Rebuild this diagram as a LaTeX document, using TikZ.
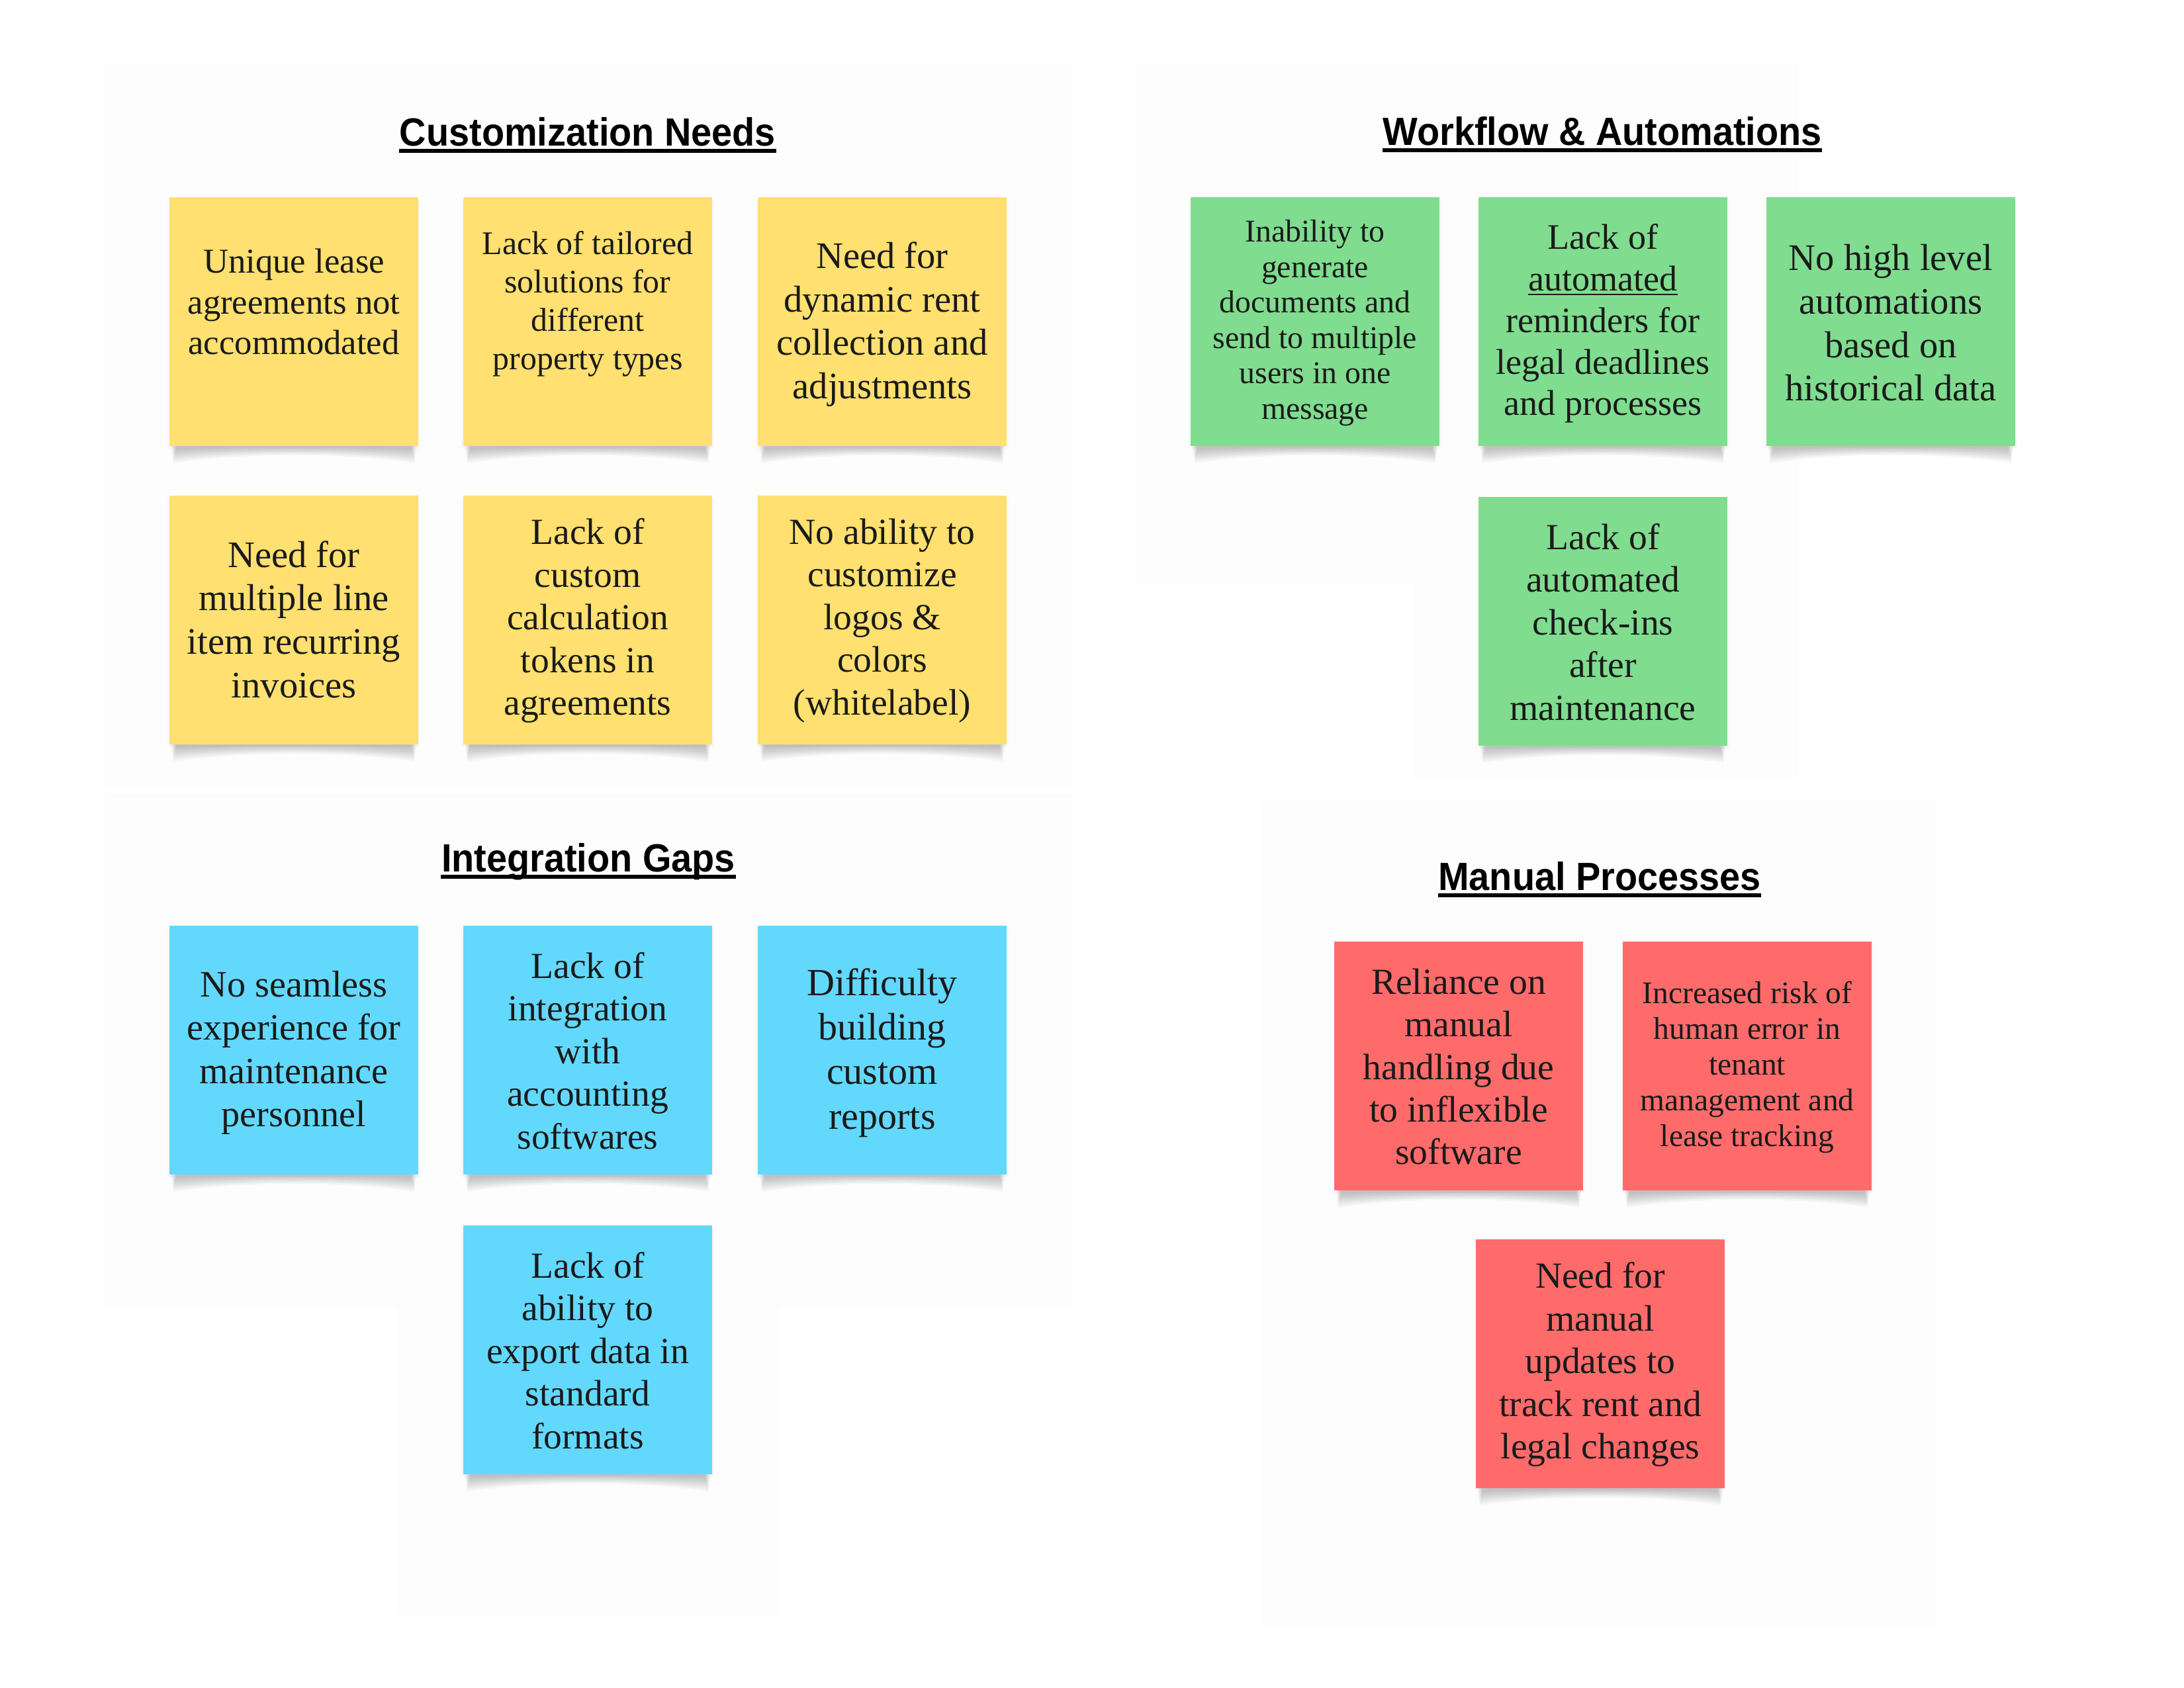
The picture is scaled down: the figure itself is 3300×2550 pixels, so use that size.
\documentclass[tikz,border=0pt]{standalone}
\usepackage{fontspec}
\setmainfont{Liberation Serif}
\newfontfamily\titlefont[FakeStretch=0.94]{Liberation Sans Bold}
\definecolor{ynote}{HTML}{FFE070}
\definecolor{gnote}{HTML}{80DC8F}
\definecolor{bnote}{HTML}{63D8FD}
\definecolor{rnote}{HTML}{FF6B6B}
\definecolor{ink}{HTML}{1A1A1A}
\definecolor{tile}{HTML}{FDFDFD}
\tikzset{
  notebox/.style={rectangle, inner sep=0pt, outer sep=0pt, minimum width=3.76cm, minimum height=3.76cm},
  notetext/.style={inner sep=0pt, align=center, text=ink},
  sectitle/.style={inner sep=0pt, anchor=base, font={\titlefont\fontsize{16.9}{20}\selectfont}, text=black},
  tileback/.style={fill=tile, opacity=0.6}
}
% #1 name, #2 x, #3 y (top-left, px), #4 colour, #5 text y-offset, #6 size, #7 line factor, #8 text
\newcommand{\snote}[8]{%
  \fill[black, opacity=0.02] ({#2-3},{#3+4}) rectangle ({#2+379},{#3+380});
  \foreach \k in {1,...,10}{%
    \fill[black, opacity=0.022] ({#2+12-\k},{#3+376}) -- ({#2+364+\k},{#3+376})
      -- ({#2+366+0.4*\k},{#3+380+2.2*\k})
      .. controls ({#2+260},{#3+376+1.0*\k}) and ({#2+116},{#3+376+1.0*\k}) ..
      ({#2+10-0.4*\k},{#3+380+2.2*\k}) -- cycle;
  }%
  \node[notebox, fill=#4] (#1) at ({#2+188},{#3+188}) {};
  \pgfmathsetmacro{\nbls}{#6*#7}%
  \node[notetext, font={\fontsize{#6}{\nbls}\selectfont}] (#1t) at ({#2+188},{#3+188+#5}) {#8};
}
\begin{document}
\begin{tikzpicture}[x=0.01cm, y=-0.01cm]
\useasboundingbox (0,0) rectangle (3300,2550);
\fill[white] (0,0) rectangle (3300,2550);
% faint background tiles
\fill[tileback] (158,95) rectangle (1620,1190);
\fill[tileback] (158,1200) rectangle (1620,1978);
\fill[tileback] (600,1978) rectangle (1178,2441);
\fill[tileback] (1715,95) rectangle (2715,884);
\fill[tileback] (2136,884) rectangle (2715,1178);
\fill[tileback] (1905,1210) rectangle (2925,2462);

% titles
\node[sectitle] (t1) at (888,220) {Customization Needs};
\node[sectitle] (t2) at (2421,219) {Workflow \& Automations};
\node[sectitle] (t3) at (889,1317) {Integration Gaps};
\node[sectitle] (t4) at (2417,1345) {Manual Processes};
\foreach \t in {t1,t2,t3,t4}{
  \draw[line width=1.7pt, black] ([yshift=-0.8mm]\t.base west) -- ([yshift=-0.8mm]\t.base east);
}

% Customization Needs
\snote{y1}{256}{298}{ynote}{-30}{15}{1.16}{Unique lease\\agreements not\\accommodated}
\snote{y2}{700}{298}{ynote}{-27}{14.2}{1.16}{Lack of tailored\\solutions for\\different\\property types}
\snote{y3}{1145}{298}{ynote}{4}{16.1}{1.16}{Need for\\dynamic rent\\collection and\\adjustments}
\snote{y4}{256}{749}{ynote}{-1}{16.1}{1.16}{Need for\\multiple line\\item recurring\\invoices}
\snote{y5}{700}{749}{ynote}{1}{15.8}{1.16}{Lack of\\custom\\calculation\\tokens in\\agreements}
\snote{y6}{1145}{749}{ynote}{1}{15.8}{1.16}{No ability to\\customize\\logos \&\\colors\\(whitelabel)}

% Integration Gaps
\snote{b1}{256}{1399}{bnote}{4}{16}{1.16}{No seamless\\experience for\\maintenance\\personnel}
\snote{b2}{700}{1399}{bnote}{1}{15.8}{1.16}{Lack of\\integration\\with\\accounting\\softwares}
\snote{b3}{1145}{1399}{bnote}{4}{16.5}{1.16}{Difficulty\\building\\custom\\reports}
\snote{b4}{700}{1852}{bnote}{1}{15.8}{1.16}{Lack of\\ability to\\export data in\\standard\\formats}

% Workflow & Automations
\snote{g1}{1799}{298}{gnote}{2}{13.6}{1.12}{Inability to\\generate\\documents and\\send to multiple\\users in one\\message}
\snote{g2}{2234}{298}{gnote}{3}{15.4}{1.16}{Lack of\\\underline{automated}\\reminders for\\legal deadlines\\and processes}
\snote{g3}{2669}{298}{gnote}{2}{16.1}{1.16}{No high level\\automations\\based on\\historical data}
\snote{g4}{2234}{751}{gnote}{1}{15.8}{1.16}{Lack of\\automated\\check-ins\\after\\maintenance}

% Manual Processes
\snote{r1}{2016}{1423}{rnote}{1}{15.8}{1.16}{Reliance on\\manual\\handling due\\to inflexible\\software}
\snote{r2}{2452}{1423}{rnote}{2}{13.5}{1.14}{Increased risk of\\human error in\\tenant\\management and\\lease tracking}
\snote{r3}{2230}{1873}{rnote}{1}{15.8}{1.16}{Need for\\manual\\updates to\\track rent and\\legal changes}
\end{tikzpicture}
\end{document}
